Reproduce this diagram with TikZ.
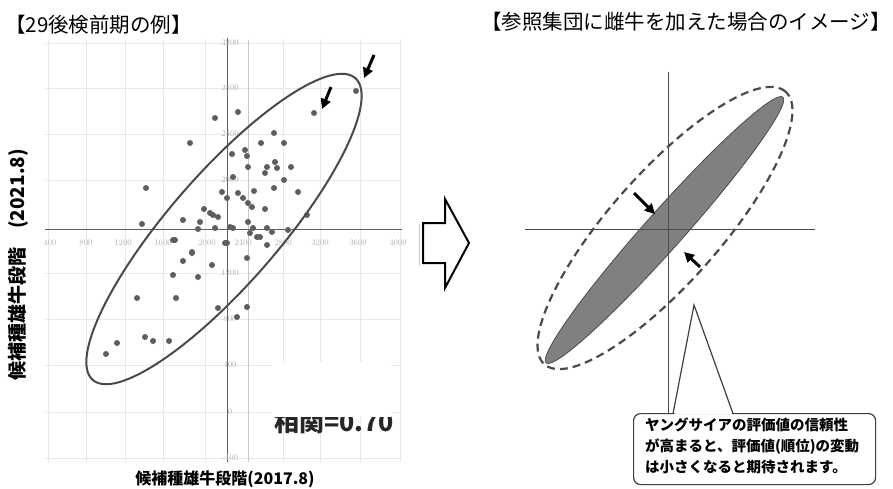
\documentclass[tikz,border=0pt]{standalone}
\usepackage{fontspec}
\newfontfamily\jp{Noto Sans CJK JP}
\usetikzlibrary{arrows.meta}
\definecolor{ptgray}{HTML}{5E5E5E}
\definecolor{ellgray}{HTML}{4A4A4A}
\definecolor{fillgray}{HTML}{808080}
\begin{document}
\begin{tikzpicture}[x=1pt,y=-1pt,
  gridl/.style={draw=gray!18, line width=0.9pt},
  axisl/.style={draw=gray!75!black, line width=0.9pt},
  tick/.style={font=\fontsize{8.5}{8.5}\selectfont, text=gray!60, inner sep=0pt},
  dot/.style={fill=ptgray},
  bigarrow/.style={line width=3pt, -{Triangle[length=10pt,width=10pt]}},
  titletext/.style={font=\jp\fontsize{20.5}{22}\selectfont, inner sep=0pt},
  labeltext/.style={font=\jp\bfseries\fontsize{16}{18}\selectfont, inner sep=0pt},
]
\useasboundingbox[fill=white] (0,0) rectangle (893,489);

% ---------- titles ----------
\node[titletext, anchor=west] (tl) at (5,25) {【29後検前期の例】};
\node[titletext, anchor=east] (tr) at (891,22) {【参照集団に雌牛を加えた場合のイメージ】};

% ---------- left chart: grid ----------
\foreach \x in {48,86,125,163,205,283,320,360,400}
  \draw[gridl] (\x,40) -- (\x,462);
\foreach \y in {43,88,134,180,273,319,365,412,458}
  \draw[gridl] (45,\y) -- (402,\y);
\draw[draw=gray!45, line width=0.9pt] (248,40) -- (248,462);
\draw[axisl] (45,229) -- (402,229);
\draw[axisl] (227,38) -- (227,462);
\draw[draw=gray!40, line width=0.8pt] (419,224) -- (419,266);

% tick labels
\foreach \x/\l in {50/400,86/800,123/1200,163/1600,207/2000,243/2400,283/2800,320/3200,358/3600,398/4000}
  \node[tick] (xt\x) at (\x,243) {\l};
\foreach \y/\l in {43/3200,88/2800,134/2400,180/2000,273/1200,319/800,365/400,412/0,458/-400}
  \node[tick] (yt\y) at (230,\y) {\l};

% data points
\foreach \px/\py in {356/91,314/113,238/112,215/118,274/133,190/143,261/143,284/143,245/150,232/154,
  247/156,248/167,275/162,267/167,265/173,277/168,291/167,284/180,233/177,146/188,222/192,254/191,
  274/188,298/192,238/193,243/198,248/203,252/207,227/198,265/209,204/209,213/215,218/217,183/220,
  200/222,198/229,215/228,230/227,233/228,248/222,253/228,267/228,272/232,288/230,307/215,142/224,
  173/240,250/233,183/261,192/253,173/275,198/277,212/265,227/243,247/258,257/237,267/245,137/298,
  176/298,218/308,247/307,237/317,145/337,153/341,169/341,117/343,106/354,210/213,260/237,192/252,
  225/243,175/240}
  \fill[dot] (\px,\py) circle (3pt);

% ellipse
\draw[ellgray, line width=2pt, rotate around={49:(224,229)}] (224,229) ellipse [x radius=200pt, y radius=55pt];

% arrows
\coordinate (la1s) at (331,87);  \coordinate (la1e) at (322,109);
\coordinate (la2s) at (374,55);  \coordinate (la2e) at (364,78);
\draw[bigarrow] (la1s) -- (la1e);
\draw[bigarrow] (la2s) -- (la2e);

% correlation text, partly hidden
\node[font=\jp\bfseries\fontsize{25}{25}\selectfont, text=black!85, anchor=base west, inner sep=0pt] (corr) at (274,431) {相関=0.70};
\fill[white] (272,362) rectangle (391,417);

% axis labels
\node[labeltext, anchor=base] (xl) at (225,484) {候補種雄牛段階(2017.8)};
\node[labeltext, font=\jp\bfseries\fontsize{19}{20}\selectfont, rotate=90] (yl) at (18,265) {候補種雄牛段階　(2021.8)};

% ---------- middle block arrow ----------
\draw[line width=2pt, line join=miter] (423,223) -- (445,223) -- (445,199) -- (469,243) -- (445,288) -- (445,263) -- (423,263) -- cycle;

% ---------- right picture ----------
\fill[fillgray, draw=gray!60!black, line width=0.8pt, rotate around={48.3:(664.5,230)}] (664.5,230) ellipse [x radius=178pt, y radius=19pt];
\draw[gray!60!black, line width=1pt] (525,229) -- (815,229);
\draw[gray!60!black, line width=1pt] (668,72) -- (668,413);
\draw[ellgray, line width=2.2pt, dash pattern=on 8pt off 5pt, rotate around={48.5:(665,228)}] (665,228) ellipse [x radius=182pt, y radius=55pt];

\coordinate (ra1s) at (634,193); \coordinate (ra1e) at (655,214);
\coordinate (ra2s) at (700,267); \coordinate (ra2e) at (684,252);
\draw[bigarrow] (ra1s) -- (ra1e);
\draw[bigarrow] (ra2s) -- (ra2e);

% callout
\node[draw=gray!50!black, line width=1.2pt, rounded corners=7pt, fill=white,
      minimum width=242pt, minimum height=71pt, anchor=north west] (box) at (633,413) {};
\fill[white] (674.5,414.5) -- (694,305) -- (732,414.5) -- cycle;
\draw[gray!50!black, line width=1.2pt, line join=miter] (673,413.6) -- (694,305) -- (733,413.6);
\node[font=\jp\bfseries\fontsize{14.5}{21}\selectfont, align=left, anchor=north west, inner sep=0pt]
  (boxtext) at (645,418) {ヤングサイアの評価値の信頼性\\が高まると、評価値(順位)の変動\\は小さくなると期待されます。};
\end{tikzpicture}
\end{document}
